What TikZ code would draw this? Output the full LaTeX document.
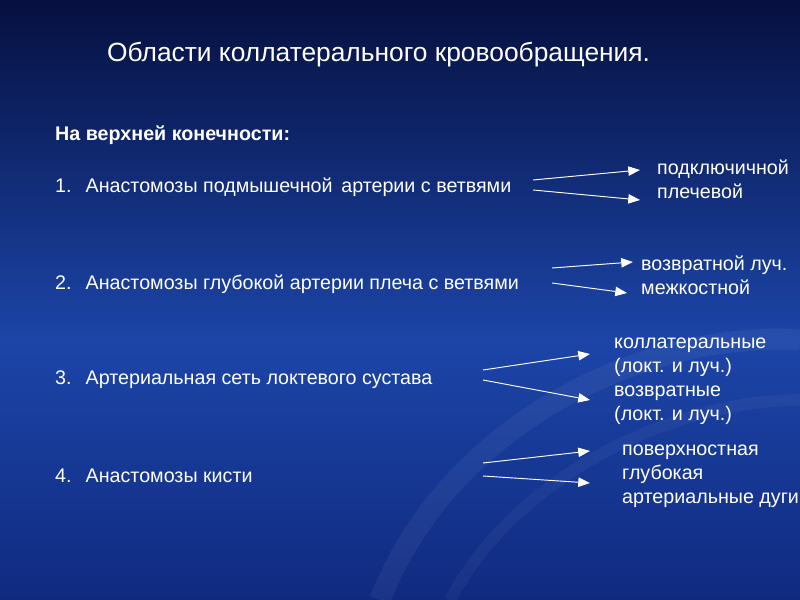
\documentclass[tikz,border=0pt]{standalone}
\usepackage{fontspec}
\setmainfont{Liberation Sans}
\usetikzlibrary{arrows.meta}
\definecolor{bgtop}{HTML}{061040}
\definecolor{bgmid}{HTML}{1C45A8}
\definecolor{bgbot}{HTML}{102A80}
\begin{document}
\begin{tikzpicture}[x=0.03cm,y=-0.03cm,
  txt/.style={text=white,font=\fontsize{16.8}{20.5}\selectfont,anchor=west,inner sep=0pt},
  lst/.style={txt,align=left},
  arr/.style={draw=white,line width=0.8pt,-{Triangle[length=10pt,width=8pt]}}]
\shade[top color=bgtop,bottom color=bgmid] (0,0) rectangle (800,340.5);
\shade[top color=bgmid,bottom color=bgbot] (0,340) rectangle (800,600);
\useasboundingbox (0,0) rectangle (800,600);
\draw[white,opacity=0.05,line width=18pt] (380,600) .. controls (450,420) and (650,330) .. (800,340);
\draw[white,opacity=0.04,line width=10pt] (450,600) .. controls (520,470) and (680,400) .. (800,400);
\node[txt,font=\fontsize{22.5}{27}\selectfont] (title) at (107,55) {Области коллатерального кровообращения.};
\node[txt,font=\fontsize{16.8}{20}\selectfont\bfseries] (head) at (55,135) {На верхней конечности:};
\node[txt] (i1) at (55,187) {1.\hspace{12pt}Анастомозы подмышечной\, артерии с ветвями};
\node[txt] (i2) at (55,284) {2.\hspace{12pt}Анастомозы глубокой артерии плеча с ветвями};
\node[txt] (i3) at (55,380) {3.\hspace{12pt}Артериальная сеть локтевого сустава};
\node[txt] (i4) at (55,476) {4.\hspace{12pt}Анастомозы кисти};
\node[lst,anchor=north west] (r1) at (657,160) {подключичной\\плечевой};
\node[lst,anchor=north west] (r2) at (641,256) {возвратной луч.\\межкостной};
\node[lst,anchor=north west] (r3) at (614,338) {коллатеральные\\(локт. и луч.)\\возвратные\\(локт. и луч.)};
\node[lst,anchor=north west] (r4) at (622,445) {поверхностная\\глубокая\\артериальные дуги};
\coordinate (a1s) at (533,180); \coordinate (a1e) at (640,170);
\coordinate (b1s) at (533,190); \coordinate (b1e) at (640,200);
\coordinate (a2s) at (552,268); \coordinate (a2e) at (633,262);
\coordinate (b2s) at (552,283); \coordinate (b2e) at (627,293);
\coordinate (a3s) at (483,370); \coordinate (a3e) at (590,354);
\coordinate (b3s) at (483,380); \coordinate (b3e) at (590,400);
\coordinate (a4s) at (483,463); \coordinate (a4e) at (590,451);
\coordinate (b4s) at (483,476); \coordinate (b4e) at (590,483);
\foreach \p in {a1,b1,a2,b2,a3,b3,a4,b4} \draw[arr] (\p s) -- (\p e);
\end{tikzpicture}
\end{document}
